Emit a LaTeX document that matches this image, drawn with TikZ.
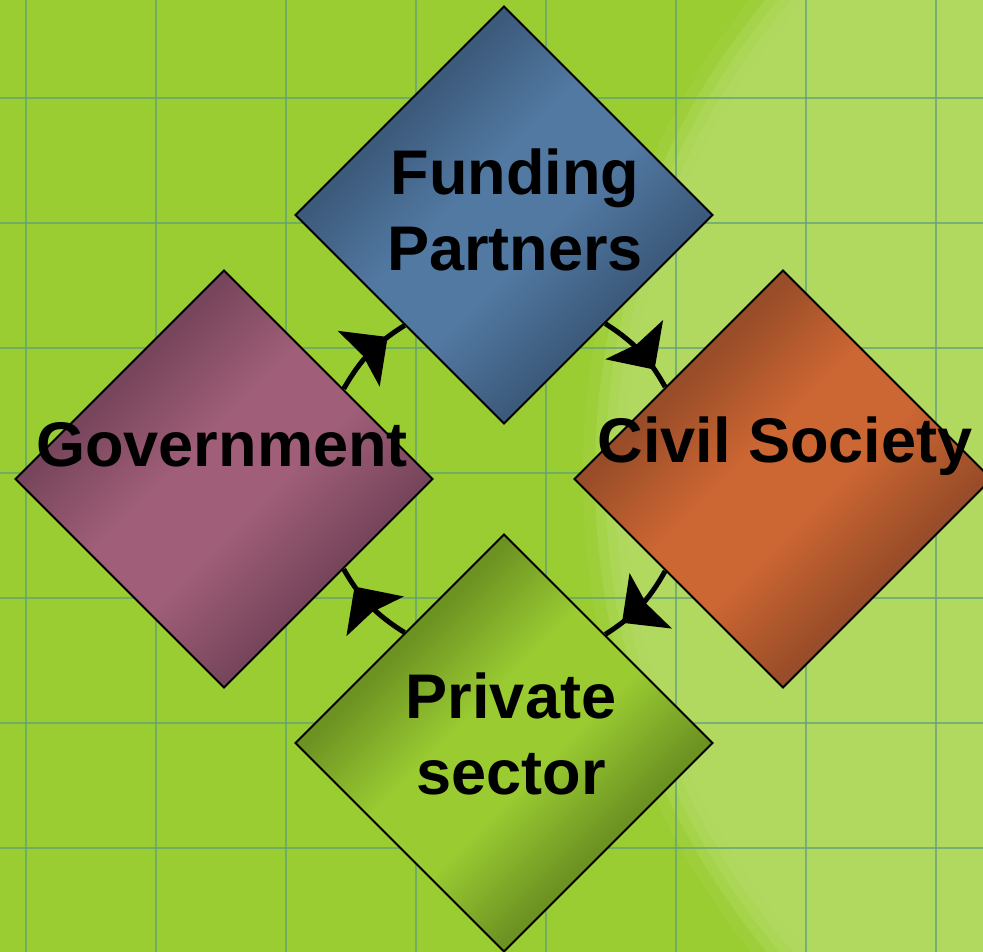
\documentclass[tikz,border=0pt]{standalone}
\usepackage{fontspec}
\setmainfont{Liberation Sans}
\usepackage{tikz}
\usetikzlibrary{shapes.geometric, arrows.meta, decorations.markings}

\definecolor{bggreen}{RGB}{154,205,50}
\definecolor{bglight}{RGB}{177,217,96}
\definecolor{gridline}{RGB}{96,158,122}
\definecolor{funddark}{RGB}{60,90,124}
\definecolor{fundmid}{RGB}{82,121,162}
\definecolor{govdark}{RGB}{120,70,92}
\definecolor{govmid}{RGB}{160,94,120}
\definecolor{civdark}{RGB}{152,76,40}
\definecolor{civmid}{RGB}{204,102,51}
\definecolor{privdark}{RGB}{108,146,34}
\definecolor{privmid}{RGB}{154,204,50}

\colorlet{sdark}{black}
\colorlet{smid}{white}
\pgfdeclareverticalshading[sdark,smid]{sectorshade}{100bp}{
  color(0bp)=(sdark); color(33bp)=(sdark); color(45bp)=(smid);
  color(55bp)=(smid); color(67bp)=(sdark); color(100bp)=(sdark)}

\begin{document}
\begin{tikzpicture}[
    x = 0.02cm, y = 0.02cm,
    sector/.style = {
      diamond,
      draw = black,
      line width = 0.04cm,
      shape aspect = 1,
      inner sep = 0pt,
      minimum width = 8.36cm,
      minimum height = 8.36cm},
    tone/.style 2 args = {
      /utils/exec = {\colorlet{sdark}{#1}\colorlet{smid}{#2}},
      shading = sectorshade,
      shading angle = 45},
    caption/.style = {
      font = \bfseries\fontsize{35.9}{43}\selectfont,
      align = center,
      inner sep = 0pt,
      text = black},
    loop arrow/.style = {
      line width = 0.1cm,
      postaction = {decorate},
      decoration = {markings,
        mark = at position 0.77 with {\arrow{Stealth[length = 0.72cm, width = 1.38cm, inset = 0.1cm]}}}}
  ]

% background
\useasboundingbox (0,0) rectangle (983,952);
\fill[bggreen] (0,0) rectangle (983,952);
\begin{scope}
  \clip (0,0) rectangle (983,952);
  \foreach \r/\o in {760/0.2, 748/0.4, 738/0.6, 728/0.8, 718/1}
    \fill[bglight, opacity = \o] (1343,477) circle [radius = \r];
\end{scope}
\foreach \gx in {26,156,...,936}
  \draw[gridline, line width = 0.04cm, opacity = 0.7] (\gx,0) -- (\gx,952);
\foreach \gy in {104,229,...,854}
  \draw[gridline, line width = 0.04cm, opacity = 0.7] (0,\gy) -- (983,\gy);

% funding partners
\node[sector, tone = {funddark}{fundmid}] (fund) at (504,737) {};

% government
\node[sector, tone = {govdark}{govmid}] (gov) at (224,473) {};

% civil society
\node[sector, tone = {civdark}{civmid}] (civil) at (783,473) {};

% private sector
\node[sector, tone = {privdark}{privmid}] (priv) at (504,209) {};

% cycle arrows
\draw[loop arrow] (fund.-47.5) to[bend left = 14] (civil.142.4);
\draw[loop arrow] (civil.-142.4) to[bend left = 14] (priv.47.5);
\draw[loop arrow] (priv.132.5) to[bend left = 14] (gov.-37.4);
\draw[loop arrow] (gov.37.4) to[bend left = 14] (fund.-132.5);

% labels
\node[caption] (fundtext) at (515,742) {Funding\\Partners};
\node[caption, anchor = base] (govtext) at (222,485) {Government};
\node[caption, anchor = base] (civiltext) at (785,489) {Civil Society};
\node[caption] (privtext) at (511,218) {Private\\sector};

\end{tikzpicture}
\end{document}
